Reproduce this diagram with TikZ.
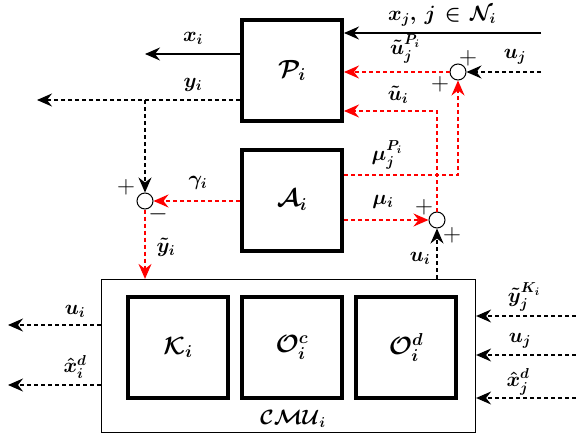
\documentclass[tikz,border=0pt]{standalone}
\usepackage{amsmath,bm}
\usetikzlibrary{arrows.meta}
\newcommand{\hb}[1]{$#1$}
\begin{document}
\begin{tikzpicture}[x=1pt,y=-1pt,
  font=\fontsize{22}{26}\selectfont\boldmath,
  blk/.style={draw,line width=4pt,minimum width=100pt,minimum height=101pt,inner sep=0pt,font=\fontsize{25}{28}\selectfont\boldmath},
  sumj/.style={draw,circle,line width=1pt,minimum size=16pt,inner sep=0pt,fill=white},
  arr/.style={-{Stealth[length=15pt,width=13pt,inset=5pt]}},
  sol/.style={arr,line width=1.2pt},
  dsh/.style={arr,line width=1.2pt,dash pattern=on 4pt off 3pt},
  rdsh/.style={arr,line width=1.4pt,red,dash pattern=on 4pt off 3pt},
  lbl/.style={inner sep=0pt},
  sgn/.style={inner sep=0pt,font=\fontsize{24}{26}\selectfont}]
\useasboundingbox (0,0) rectangle (576,439);
% main blocks
\node[blk] (P) at (292,70.5) {\hb{\mathcal{P}_i}};
\node[blk] (A) at (292,200) {\hb{\mathcal{A}_i}};
\node[draw,line width=1.2pt,minimum width=374pt,minimum height=153pt,inner sep=0pt] (CMU) at (288.5,356) {};
\node[blk] (K) at (178,347.5) {\hb{\mathcal{K}_i}};
\node[blk] (Oc) at (292,347.5) {\hb{\mathcal{O}_i^c}};
\node[blk] (Od) at (406,347.5) {\hb{\mathcal{O}_i^d}};
\node[lbl] (cmul) at (293,419) {\hb{\mathcal{CMU}_i}};
% summing junctions
\node[sumj] (j1) at (145,201) {};
\node[sumj] (j2) at (437,220) {};
\node[sumj] (j3) at (458,72) {};
% coordinates
\coordinate (xjs) at (541,33);
\coordinate (xie) at (145,54);
\coordinate (yie) at (37,100);
\coordinate (yib) at (145,100);
\coordinate (ujs) at (541,72);
\coordinate (uic) at (437,111);
\coordinate (muc) at (458,175);
\coordinate (lo1) at (8,325);
\coordinate (lo2) at (8,385);
\coordinate (ri1) at (576,316);
\coordinate (ri2) at (576,355);
\coordinate (ri3) at (576,398);
% connectors
\draw[sol] (xjs) -- (xjs -| P.east);
\draw[sol] (xie -| P.west) -- (xie);
\draw[dsh] (yie -| P.west) -- (yie);
\draw[dsh] (yib) -- (j1.north);
\draw[rdsh] (A.west |- j1) -- (j1.east);
\draw[rdsh] (j1.south) -- (j1 |- CMU.north);
\draw[rdsh] (A.east |- j2) -- (j2.west);
\draw[dsh] (j2 |- CMU.north) -- (j2.south);
\draw[rdsh] (A.east |- muc) -- (muc) -- (j3.south);
\draw[rdsh] (j2.north) -- (uic) -- (uic -| P.east);
\draw[rdsh] (j3.west) -- (j3 -| P.east);
\draw[dsh] (ujs) -- (j3.east);
\draw[dsh] (CMU.west |- lo1) -- (lo1);
\draw[dsh] (CMU.west |- lo2) -- (lo2);
\draw[dsh] (ri1) -- (ri1 -| CMU.east);
\draw[dsh] (ri2) -- (ri2 -| CMU.east);
\draw[dsh] (ri3) -- (ri3 -| CMU.east);
% labels
\node[lbl] at (442,16) {\hb{x_j,\,j\mskip2mu\in\mskip2mu\mathcal{N}_i}};
\node[lbl] at (193,38) {\hb{x_i}};
\node[lbl] at (193,85) {\hb{y_i}};
\node[lbl] at (405,49) {\hb{\tilde{u}_j^{P_i}}};
\node[lbl] at (398,95) {\hb{\tilde{u}_i}};
\node[lbl] at (515,57) {\hb{u_j}};
\node[lbl] at (387,155) {\hb{\mu_j^{P_i}}};
\node[lbl] at (383,202) {\hb{\mu_i}};
\node[lbl] at (198,183) {\hb{\gamma_i}};
\node[lbl] at (166,247) {\hb{\tilde{y}_i}};
\node[lbl] at (420,258) {\hb{u_i}};
\node[lbl] at (75,311) {\hb{u_i}};
\node[lbl] at (75,367) {\hb{\hat{x}_i^d}};
\node[lbl] at (524,297) {\hb{\tilde{y}_j^{K_i}}};
\node[lbl] at (520,341) {\hb{u_j}};
\node[lbl] at (518,382) {\hb{\hat{x}_j^d}};
% signs
\node[sgn] at (468,58) {$+$};
\node[sgn] at (440,84) {$+$};
\node[sgn] at (126,187) {$+$};
\node[sgn] at (158,214) {$-$};
\node[sgn] at (424,207) {$+$};
\node[sgn] at (452,235) {$+$};
\end{tikzpicture}
\end{document}
